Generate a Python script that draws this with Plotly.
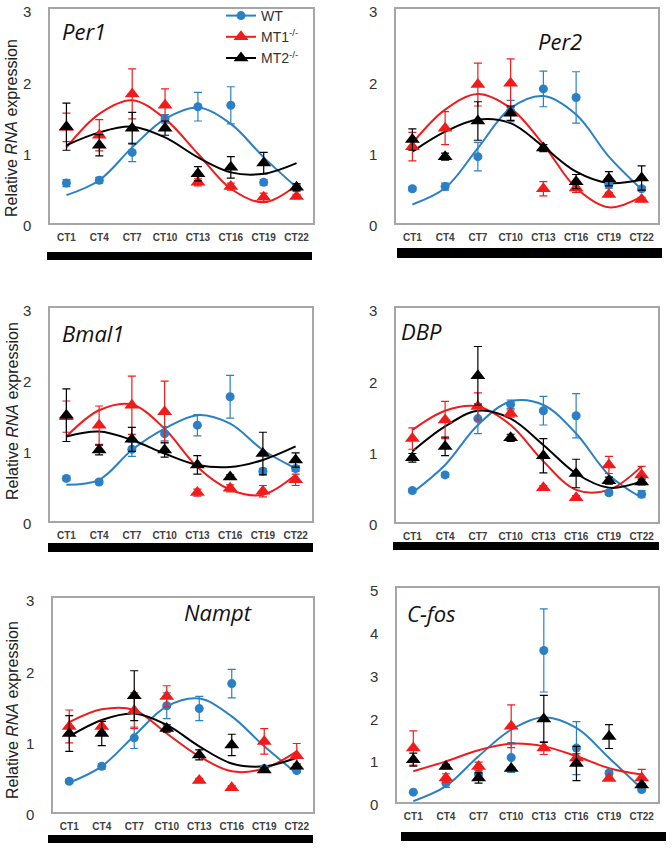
import plotly.graph_objects as go
from plotly.subplots import make_subplots

HOURS = [1, 4, 7, 10, 13, 16, 19, 22]
TICK_LABELS = ["CT1", "CT4", "CT7", "CT10", "CT13", "CT16", "CT19", "CT22"]
GENES = ["Per1", "Per2", "Bmal1", "DBP", "Nampt", "C-fos"]
SERIES = ["WT", "MT1<sup>-/-</sup>", "MT2<sup>-/-</sup>"]

# measured means and error bars (WT, MT1-/-, MT2-/-)
PER1_WT = [0.56, 0.60, 0.99, 1.46, 1.63, 1.65, 0.57, 0.50]
PER1_WT_ERR = [0.05, 0.04, 0.13, 0.06, 0.20, 0.26, 0.04, 0.05]
PER1_MT1 = [1.34, 1.23, 1.81, 1.65, 0.57, 0.51, 0.36, 0.37]
PER1_MT1_ERR = [0.20, 0.22, 0.35, 0.23, 0.05, 0.05, 0.06, 0.03]
PER1_MT2 = [1.35, 1.09, 1.33, 1.33, 0.69, 0.78, 0.84, 0.50]
PER1_MT2_ERR = [0.33, 0.15, 0.22, 0.10, 0.10, 0.15, 0.15, 0.05]

PER2_WT = [0.48, 0.51, 0.93, 1.57, 1.88, 1.76, 0.54, 0.48]
PER2_WT_ERR = [0.03, 0.05, 0.20, 0.15, 0.25, 0.36, 0.05, 0.03]
PER2_MT1 = [1.07, 1.33, 1.94, 1.96, 0.48, 0.49, 0.40, 0.33]
PER2_MT1_ERR = [0.20, 0.23, 0.30, 0.34, 0.10, 0.06, 0.03, 0.03]
PER2_MT2 = [1.17, 0.93, 1.43, 1.54, 1.05, 0.58, 0.62, 0.63]
PER2_MT2_ERR = [0.15, 0.05, 0.27, 0.10, 0.05, 0.10, 0.10, 0.17]

BMAL1_WT = [0.60, 0.55, 1.01, 1.23, 1.35, 1.75, 0.70, 0.74]
BMAL1_WT_ERR = [0.03, 0.03, 0.10, 0.10, 0.15, 0.30, 0.04, 0.04]
BMAL1_MT1 = [1.47, 1.35, 1.63, 1.54, 0.40, 0.46, 0.42, 0.58]
BMAL1_MT1_ERR = [0.22, 0.27, 0.41, 0.43, 0.05, 0.05, 0.08, 0.08]
BMAL1_MT2 = [1.49, 1.00, 1.15, 1.00, 0.79, 0.62, 0.95, 0.86]
BMAL1_MT2_ERR = [0.37, 0.07, 0.17, 0.10, 0.13, 0.03, 0.30, 0.10]

DBP_WT = [0.44, 0.66, 1.45, 1.65, 1.56, 1.49, 0.41, 0.39]
DBP_WT_ERR = [0.03, 0.03, 0.21, 0.06, 0.20, 0.31, 0.03, 0.05]
DBP_MT1 = [1.17, 1.43, 1.62, 1.52, 0.48, 0.34, 0.80, 0.66]
DBP_MT1_ERR = [0.15, 0.26, 0.19, 0.05, 0.03, 0.03, 0.12, 0.12]
DBP_MT2 = [0.90, 1.06, 2.05, 1.18, 0.93, 0.68, 0.58, 0.56]
DBP_MT2_ERR = [0.06, 0.13, 0.41, 0.05, 0.24, 0.20, 0.05, 0.04]

NAMPT_WT = [0.43, 0.64, 1.04, 1.49, 1.45, 1.80, 0.61, 0.58]
NAMPT_WT_ERR = [0.03, 0.04, 0.15, 0.18, 0.17, 0.20, 0.03, 0.03]
NAMPT_MT1 = [1.20, 1.20, 1.42, 1.62, 0.44, 0.34, 0.99, 0.79]
NAMPT_MT1_ERR = [0.23, 0.07, 0.25, 0.15, 0.03, 0.03, 0.18, 0.17]
NAMPT_MT2 = [1.10, 1.10, 1.63, 1.17, 0.80, 0.94, 0.59, 0.64]
NAMPT_MT2_ERR = [0.25, 0.17, 0.35, 0.05, 0.07, 0.15, 0.03, 0.03]

CFOS_WT = [0.23, 0.44, 0.65, 1.04, 3.54, 1.26, 0.68, 0.29]
CFOS_WT_ERR = [0.03, 0.10, 0.10, 0.35, 0.97, 0.62, 0.05, 0.05]
CFOS_MT1 = [1.26, 0.56, 0.83, 1.77, 1.26, 1.03, 0.55, 0.56]
CFOS_MT1_ERR = [0.40, 0.10, 0.10, 0.50, 0.15, 0.10, 0.03, 0.20]
CFOS_MT2 = [0.99, 0.83, 0.56, 0.78, 1.94, 0.90, 1.53, 0.40]
CFOS_MT2_ERR = [0.15, 0.05, 0.12, 0.03, 0.55, 0.40, 0.28, 0.03]

PER1_WT_FIT = [0.39, 0.60, 1.06, 1.46, 1.62, 1.39, 0.92, 0.50]
PER1_MT1_FIT = [1.06, 1.53, 1.72, 1.46, 0.97, 0.48, 0.29, 0.53]
PER1_MT2_FIT = [1.09, 1.27, 1.35, 1.20, 0.92, 0.71, 0.69, 0.84]
PER2_WT_FIT = [0.26, 0.49, 1.05, 1.61, 1.78, 1.52, 0.93, 0.47]
PER2_MT1_FIT = [1.12, 1.59, 1.81, 1.61, 1.10, 0.49, 0.22, 0.37]
PER2_MT2_FIT = [1.00, 1.28, 1.45, 1.40, 1.07, 0.72, 0.56, 0.61]
BMAL1_WT_FIT = [0.51, 0.58, 1.00, 1.30, 1.49, 1.37, 1.00, 0.74]
BMAL1_MT1_FIT = [1.19, 1.56, 1.64, 1.30, 0.76, 0.44, 0.37, 0.65]
BMAL1_MT2_FIT = [1.19, 1.26, 1.14, 0.95, 0.79, 0.76, 0.86, 1.05]
DBP_WT_FIT = [0.41, 0.80, 1.36, 1.69, 1.64, 1.24, 0.66, 0.34]
DBP_MT1_FIT = [1.29, 1.56, 1.62, 1.36, 0.85, 0.45, 0.45, 0.78]
DBP_MT2_FIT = [0.99, 1.34, 1.56, 1.45, 1.08, 0.68, 0.48, 0.57]
NAMPT_WT_FIT = [0.41, 0.64, 1.07, 1.48, 1.59, 1.34, 0.92, 0.54]
NAMPT_MT1_FIT = [1.26, 1.44, 1.43, 1.10, 0.78, 0.57, 0.61, 0.85]
NAMPT_MT2_FIT = [1.06, 1.29, 1.38, 1.22, 0.92, 0.68, 0.64, 0.76]
CFOS_WT_FIT = [0.02, 0.37, 1.07, 1.69, 1.98, 1.73, 1.03, 0.31]
CFOS_MT1_FIT = [0.72, 0.95, 1.21, 1.36, 1.30, 1.07, 0.79, 0.64]

PANELS = [
    (PER1_WT, PER1_WT_ERR, PER1_MT1, PER1_MT1_ERR, PER1_MT2, PER1_MT2_ERR,
     [PER1_WT_FIT, PER1_MT1_FIT, PER1_MT2_FIT]),
    (PER2_WT, PER2_WT_ERR, PER2_MT1, PER2_MT1_ERR, PER2_MT2, PER2_MT2_ERR,
     [PER2_WT_FIT, PER2_MT1_FIT, PER2_MT2_FIT]),
    (BMAL1_WT, BMAL1_WT_ERR, BMAL1_MT1, BMAL1_MT1_ERR, BMAL1_MT2, BMAL1_MT2_ERR,
     [BMAL1_WT_FIT, BMAL1_MT1_FIT, BMAL1_MT2_FIT]),
    (DBP_WT, DBP_WT_ERR, DBP_MT1, DBP_MT1_ERR, DBP_MT2, DBP_MT2_ERR,
     [DBP_WT_FIT, DBP_MT1_FIT, DBP_MT2_FIT]),
    (NAMPT_WT, NAMPT_WT_ERR, NAMPT_MT1, NAMPT_MT1_ERR, NAMPT_MT2, NAMPT_MT2_ERR,
     [NAMPT_WT_FIT, NAMPT_MT1_FIT, NAMPT_MT2_FIT]),
    (CFOS_WT, CFOS_WT_ERR, CFOS_MT1, CFOS_MT1_ERR, CFOS_MT2, CFOS_MT2_ERR,
     [CFOS_WT_FIT, CFOS_MT1_FIT, None]),
]

W, H = 672, 849
COLORS = ["#2b80c5", "#f01c1c", "#000000"]
SYMBOLS = ["circle", "triangle-up", "triangle-up"]
SIZES = [9, 13, 13]

# panel frames in pixels: left, right, top, bottom
FRAMES = [(50, 313, 9, 223), (396, 658, 9, 223),
          (50, 312, 308, 521), (396, 658, 308, 522),
          (53, 313, 598, 812), (397, 658, 588, 802)]
BARS = [(47, 312, 252, 260), (397, 662, 248, 258),
        (48, 313, 543, 552), (393, 659, 542, 550),
        (48, 313, 835, 843), (401, 666, 832, 841)]
LABELS = [(60, 31), (536, 41), (60, 333), (399, 331), (182, 612), (405, 613)]
YTITLES = [128, 411, 710]


def px(x):
    return x / W


def py(y):
    return 1 - y / H


fig = make_subplots(rows=3, cols=2)

for i, panel in enumerate(PANELS):
    row, col = i // 2 + 1, i % 2 + 1
    means = [panel[0], panel[2], panel[4]]
    errs = [panel[1], panel[3], panel[5]]
    fits = panel[6]
    for k in range(3):
        if fits[k] is not None:
            fig.add_trace(go.Scatter(
                x=HOURS, y=fits[k], mode="lines",
                line=dict(color=COLORS[k], width=2, shape="spline", smoothing=1.0),
                showlegend=False, hoverinfo="skip"), row=row, col=col)
    for k in range(3):
        fig.add_trace(go.Scatter(
            x=HOURS, y=means[k], mode="markers",
            marker=dict(color=COLORS[k], symbol=SYMBOLS[k], size=SIZES[k]),
            error_y=dict(type="data", array=errs[k], color=COLORS[k],
                         thickness=1.2, width=4),
            showlegend=False), row=row, col=col)

# legend entries
for k in range(3):
    fig.add_trace(go.Scatter(
        x=[None], y=[None], mode="lines+markers", name=SERIES[k],
        line=dict(color=COLORS[k], width=2),
        marker=dict(color=COLORS[k], symbol=SYMBOLS[k], size=SIZES[k])),
        row=1, col=1)

layout = {}
for i, (l, r, t, b) in enumerate(FRAMES):
    suffix = "" if i == 0 else str(i + 1)
    ymax = 5 if i == 5 else 3
    layout["xaxis" + suffix] = dict(
        domain=[px(l), px(r)], range=[-0.5, 23.5], automargin=False,
        tickvals=HOURS, ticktext=TICK_LABELS, ticks="",
        ticklabelstandoff=4,
        tickfont=dict(family="Liberation Sans", size=10, color="#404040", weight="bold"),
        showgrid=False, zeroline=False, showline=True, mirror=True,
        linecolor="#a6a6a6", linewidth=1.5)
    layout["yaxis" + suffix] = dict(
        domain=[py(b), py(t)], range=[0, ymax], dtick=1, ticks="", automargin=False,
        ticklabelstandoff=14, ticklabelshift=3,
        tickfont=dict(family="Liberation Sans", size=15, color="#333333"),
        showgrid=False, zeroline=False, showline=True, mirror=True,
        linecolor="#a6a6a6", linewidth=1.5)

shapes = [dict(type="rect", xref="paper", yref="paper",
               x0=px(x0), x1=px(x1), y0=py(y1), y1=py(y0),
               fillcolor="black", line=dict(width=0))
          for x0, x1, y0, y1 in BARS]

annotations = []
for gene, (x, y) in zip(GENES, LABELS):
    annotations.append(dict(
        text="<i>%s</i>" % gene, xref="paper", yref="paper",
        x=px(x), y=py(y), xanchor="left", yanchor="middle", showarrow=False,
        font=dict(family="Open Sans", size=22, color="#111111")))
for y in YTITLES:
    annotations.append(dict(
        text="Relative <i>RNA</i> expression", xref="paper", yref="paper",
        x=px(12), y=py(y), xanchor="center", yanchor="middle", textangle=-90,
        showarrow=False,
        font=dict(family="Liberation Sans", size=16, color="#222222")))

fig.update_layout(
    **layout,
    width=W, height=H,
    margin=dict(l=0, r=0, t=0, b=0),
    paper_bgcolor="white", plot_bgcolor="white",
    shapes=shapes, annotations=annotations,
    showlegend=True,
    legend=dict(x=px(221), y=1, xanchor="left", yanchor="top",
                bgcolor="rgba(0,0,0,0)", tracegroupgap=0,
                font=dict(family="Liberation Sans", size=14, color="#333333")),
)

# drop the default page margin so the figure sits at the window corner
fig.write_html("out.html", config={"displayModeBar": False},
               post_script="document.body.style.margin='0';"
               "document.body.style.overflow='hidden';")
